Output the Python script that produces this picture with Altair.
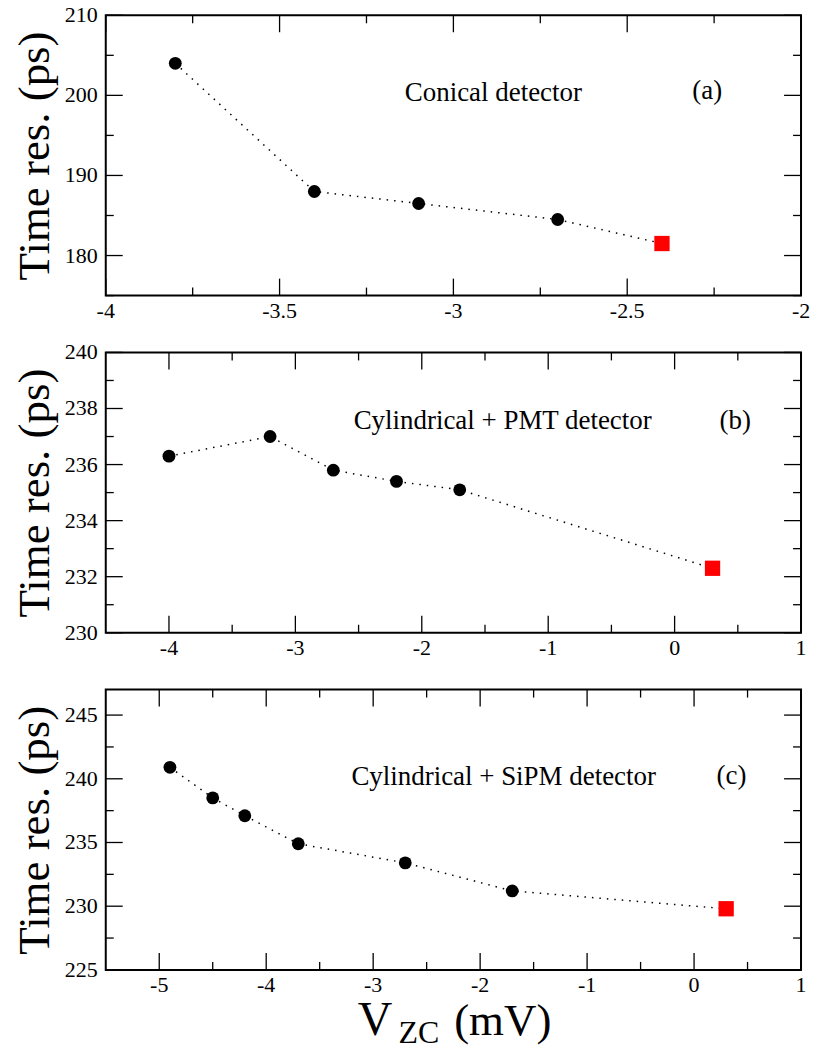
import altair as alt
import pandas as pd

FONT = "Liberation Serif"
W, H = 697, 281
MAJ, MIN = 17, 8
LFS = 22  # tick label font size

# ---------------- data ----------------
# Panel (a) Conical detector
a_x = [-3.8, -3.4, -3.1, -2.7]
a_y = [204.0, 188.0, 186.5, 184.5]
a_ref_x = [-2.4]
a_ref_y = [181.5]
a_xdom = [-4, -2]
a_ydom = [175, 210]
a_xmaj = [-4, -3.5, -3, -2.5, -2]
a_xmin = [-3.75, -3.25, -2.75, -2.25]
a_ymaj = [180, 190, 200, 210]
a_ymin = [175, 185, 195, 205]
a_notes_x = [-2.885, -2.27]
a_notes_y = [199.3, 199.5]
a_notes = ["Conical detector", "(a)"]

# Panel (b) Cylindrical + PMT
b_x = [-4.0, -3.2, -2.7, -2.2, -1.7]
b_y = [236.3, 237.0, 235.8, 235.4, 235.1]
b_ref_x = [0.3]
b_ref_y = [232.3]
b_xdom = [-4.5, 1]
b_ydom = [230, 240]
b_xmaj = [-4, -3, -2, -1, 0, 1]
b_xmin = [-3.5, -2.5, -1.5, -0.5, 0.5]
b_ymaj = [230, 232, 234, 236, 238, 240]
b_ymin = [231, 233, 235, 237, 239]
b_notes_x = [-1.36, 0.48]
b_notes_y = [237.26, 237.26]
b_notes = ["Cylindrical + PMT detector", "(b)"]

# Panel (c) Cylindrical + SiPM
c_x = [-4.9, -4.5, -4.2, -3.7, -2.7, -1.7]
c_y = [240.9, 238.5, 237.1, 234.9, 233.4, 231.2]
c_ref_x = [0.3]
c_ref_y = [229.8]
c_xdom = [-5.5, 1]
c_ydom = [225, 247]
c_xmaj = [-5, -4, -3, -2, -1, 0, 1]
c_xmin = [-4.5, -3.5, -2.5, -1.5, -0.5, 0.5]
c_ymaj = [225, 230, 235, 240, 245]
c_ymin = [227.5, 232.5, 237.5, 242.5]
c_notes_x = [-1.78, 0.35]
c_notes_y = [239.5, 239.6]
c_notes = ["Cylindrical + SiPM detector", "(c)"]

y_title = "Time res. (ps)"
x_title_parts = ["V", "ZC", "(mV)"]


def lab(v):
    return f"{v:g}"


def panel(xs_, ys_, rx, ry, xdom, ydom, xmaj, xmin, ymaj, ymin, nx, ny, nt, xtitle=False):
    pts = pd.DataFrame({"x": xs_, "y": ys_})
    ref = pd.DataFrame({"x": rx, "y": ry})
    line_df = pd.concat([pts, ref], ignore_index=True)
    xs = alt.Scale(domain=xdom, nice=False, zero=False)
    ys = alt.Scale(domain=ydom, nice=False, zero=False)
    xax = alt.Axis(values=xmaj, title=None, ticks=False, labels=False, domain=False,
                   grid=False)
    yax = alt.Axis(values=ymaj, title=y_title, ticks=False, labels=False, domain=False,
                   grid=False, titleFont=FONT, titleFontSize=45, titleFontWeight="normal",
                   titleColor="black", titlePadding=48)

    def X(field):
        return alt.X(field, scale=xs, axis=xax)

    def Y(field):
        return alt.Y(field, scale=ys, axis=yax)

    line = alt.Chart(line_df).mark_line(color="black", strokeWidth=1.5,
                                        strokeDash=[1.5, 6]).encode(
        x=X("x:Q"), y=Y("y:Q"))
    dots = alt.Chart(pts).mark_point(filled=True, shape="circle", size=165,
                                     color="black", opacity=1).encode(
        x=X("x:Q"), y=Y("y:Q"))
    sq = alt.Chart(ref).mark_point(filled=True, shape="square", size=235,
                                   color="#ff0000", opacity=1).encode(
        x=X("x:Q"), y=Y("y:Q"))
    notes = alt.Chart(pd.DataFrame({"x": nx, "y": ny, "label": nt})).mark_text(
        font=FONT, fontSize=27, align="center", baseline="alphabetic", color="black").encode(
        x=X("x:Q"), y=Y("y:Q"), text="label:N")

    xl = alt.Chart(pd.DataFrame({"x": xmaj, "lab": [lab(v) for v in xmaj]})).mark_text(
        font=FONT, fontSize=LFS, align="center", baseline="top", color="black").encode(
        x=X("x:Q"), y=alt.value(H + 5), text="lab:N")
    yl = alt.Chart(pd.DataFrame({"y": ymaj, "lab": [lab(v) for v in ymaj]})).mark_text(
        font=FONT, fontSize=LFS, align="right", baseline="middle", color="black").encode(
        y=Y("y:Q"), x=alt.value(-8), text="lab:N")

    def tx(vals, length):
        df = pd.DataFrame({"x": vals})
        bot = alt.Chart(df).mark_rule(color="black", strokeWidth=1.3).encode(
            x=X("x:Q"), y=alt.value(H), y2=alt.value(H - length))
        top = alt.Chart(df).mark_rule(color="black", strokeWidth=1.3).encode(
            x=X("x:Q"), y=alt.value(0), y2=alt.value(length))
        return [bot, top]

    def ty(vals, length):
        df = pd.DataFrame({"y": vals})
        left = alt.Chart(df).mark_rule(color="black", strokeWidth=1.3).encode(
            y=Y("y:Q"), x=alt.value(0), x2=alt.value(length))
        right = alt.Chart(df).mark_rule(color="black", strokeWidth=1.3).encode(
            y=Y("y:Q"), x=alt.value(W), x2=alt.value(W - length))
        return [left, right]

    layers = [line]
    layers += tx(xmaj, MAJ) + tx(xmin, MIN) + ty(ymaj, MAJ) + ty(ymin, MIN)
    layers += [dots, sq, notes, xl, yl]
    if xtitle:
        tdf = pd.DataFrame({"part": x_title_parts})
        spec = [(0, 270, 346, 48), (1, 314, 354, 32), (2, 398, 346, 45)]
        for i, px, py, fs in spec:
            layers.append(
                alt.Chart(tdf.iloc[[i]]).mark_text(
                    font=FONT, fontSize=fs, align="center", baseline="alphabetic",
                    color="black").encode(x=alt.value(px), y=alt.value(py), text="part:N"))
    return alt.layer(*layers).properties(width=W, height=H)


pa = panel(a_x, a_y, a_ref_x, a_ref_y, a_xdom, a_ydom, a_xmaj, a_xmin, a_ymaj, a_ymin,
           a_notes_x, a_notes_y, a_notes)
pb = panel(b_x, b_y, b_ref_x, b_ref_y, b_xdom, b_ydom, b_xmaj, b_xmin, b_ymaj, b_ymin,
           b_notes_x, b_notes_y, b_notes)
pc = panel(c_x, c_y, c_ref_x, c_ref_y, c_xdom, c_ydom, c_xmaj, c_xmin, c_ymaj, c_ymin,
           c_notes_x, c_notes_y, c_notes, xtitle=True)

chart = alt.vconcat(pa, pb, pc, spacing=57, bounds="flush").resolve_scale(
    x="independent", y="independent"
).properties(
    padding={"top": -6, "left": 3, "right": 0, "bottom": 0},
    background="white",
).configure_view(
    stroke="black", strokeWidth=2
)

chart.save("out.html", embed_options={"renderer": "svg", "actions": False})
